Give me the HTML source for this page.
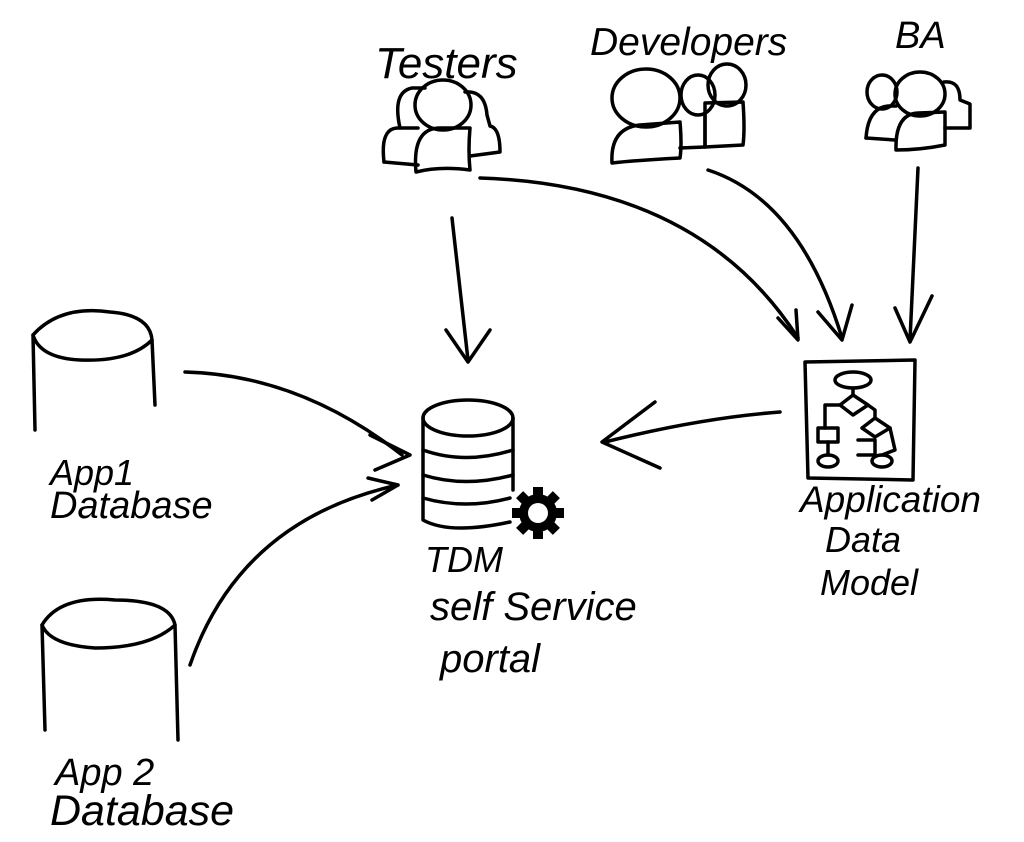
<!DOCTYPE html>
<html><head><style>
html,body{margin:0;padding:0;background:#fff;}
svg{display:block}
text{font-family:"Liberation Sans",sans-serif;font-style:italic;fill:#000;}
</style></head><body>
<svg width="1024" height="842" viewBox="0 0 1024 842" xmlns="http://www.w3.org/2000/svg">
<g fill="none" stroke="#000" stroke-width="3.5" stroke-linecap="round" stroke-linejoin="round">
<!-- Testers -->
<path d="M400,128 Q392,92 412,88 L425,88"/>
<path d="M384,162 Q380,128 398,128 L418,128"/>
<path d="M384,162 L418,165"/>
<path d="M465,92 Q485,90 487,115 L490,126 Q500,128 500,152 L470,156"/>
<ellipse cx="443" cy="105" rx="28" ry="25"/>
<path d="M416,172 Q412,128 440,128 L470,128 Q468,150 470,170 Q440,166 416,172 Z"/>
<!-- Developers -->
<ellipse cx="646" cy="98" rx="34" ry="29"/>
<path d="M612,163 Q610,128 640,125 L680,122 Q682,145 680,158 Q640,160 612,163 Z"/>
<ellipse cx="698" cy="95" rx="17" ry="20"/>
<path d="M680,148 L705,147 L705,115"/>
<ellipse cx="727" cy="85" rx="19" ry="21"/>
<path d="M705,103 L743,102 Q745,130 743,145 L705,147 Z"/>
<!-- BA -->
<ellipse cx="920" cy="94" rx="25" ry="22"/>
<ellipse cx="882" cy="92" rx="15" ry="17"/>
<path d="M866,138 Q868,108 888,106 L896,106"/>
<path d="M866,138 L895,140"/>
<path d="M944,82 Q960,80 960,100 L970,104 L970,128 L945,128"/>
<path d="M896,150 Q895,114 918,113 L945,112 L945,145 Q920,150 896,150 Z"/>
<!-- App1 DB -->
<path d="M33,335 Q60,305 110,312 Q150,315 152,340 Q130,362 80,360 Q40,358 33,335 Z"/>
<path d="M33,335 L35,430"/><path d="M152,340 L155,405"/>
<!-- App2 DB -->
<path d="M42,625 Q60,595 115,600 Q170,600 175,625 Q150,648 95,648 Q50,645 42,625 Z"/>
<path d="M42,625 L45,730"/><path d="M175,625 L178,740"/>
<!-- TDM DB -->
<ellipse cx="468" cy="418" rx="45" ry="18"/>
<path d="M423,418 L423,520 Q450,535 510,522"/><path d="M513,418 L513,490"/>
<path d="M423,450 Q465,465 513,450"/>
<path d="M423,475 Q465,488 513,475"/>
<path d="M423,498 Q465,510 510,498"/>
<!-- ADM box -->
<path d="M805,362 L915,360 L913,480 L808,478 Z"/>
<ellipse cx="853" cy="380" rx="18" ry="8"/>
<path d="M853,388 L853,395"/>
<path d="M853,395 L868,405 L853,415 L840,405 Z"/>
<path d="M840,405 L825,405 L825,428"/>
<path d="M818,428 L838,428 L838,442 L818,442 Z"/>
<path d="M828,442 L828,455"/><ellipse cx="828" cy="461" rx="10" ry="6"/>
<path d="M868,405 L875,410 L875,418"/>
<path d="M875,418 L890,428 L875,437 L862,428 Z"/>
<path d="M858,440 L875,440 L875,455 L858,455"/>
<path d="M890,428 L895,450 L882,455"/><ellipse cx="882" cy="461" rx="10" ry="6"/>
<!-- arrows -->
<path d="M452,218 L468,360"/><path d="M446,330 L468,362 L490,330"/>
<path d="M480,178 Q700,185 798,338"/><path d="M778,318 L798,340 L796,310"/>
<path d="M708,170 Q800,200 842,338"/><path d="M818,312 L842,340 L852,305"/>
<path d="M918,168 L910,340"/><path d="M895,308 L910,342 L932,296"/>
<path d="M780,412 Q700,418 605,442"/><path d="M655,402 L602,442 L660,468"/>
<path d="M185,372 Q300,375 402,455"/><path d="M370,435 L410,455 L375,470"/>
<path d="M190,665 Q240,520 398,485"/><path d="M368,478 L398,485 L372,500"/>
</g>
<!-- gear -->
<g transform="translate(538,513)">
<g fill="#000">
<rect x="-5" y="-26" width="10" height="52"/>
<rect x="-5" y="-26" width="10" height="52" transform="rotate(45)"/>
<rect x="-5" y="-26" width="10" height="52" transform="rotate(90)"/>
<rect x="-5" y="-26" width="10" height="52" transform="rotate(135)"/>
<circle r="19"/>
</g>
<circle r="10" fill="#fff"/>
</g>
<text x="375" y="78" font-size="44">Testers</text>
<text x="590" y="55" font-size="39">Developers</text>
<text x="895" y="48" font-size="38">BA</text>
<text x="50" y="485" font-size="36">App1</text>
<text x="50" y="518" font-size="38">Database</text>
<text x="55" y="785" font-size="38">App 2</text>
<text x="50" y="825" font-size="43">Database</text>
<text x="425" y="572" font-size="36">TDM</text>
<text x="430" y="620" font-size="40">self Service</text>
<text x="440" y="672" font-size="40">portal</text>
<text x="800" y="512" font-size="37">Application</text>
<text x="825" y="552" font-size="36">Data</text>
<text x="820" y="595" font-size="36">Model</text>
</svg>
</body></html>
